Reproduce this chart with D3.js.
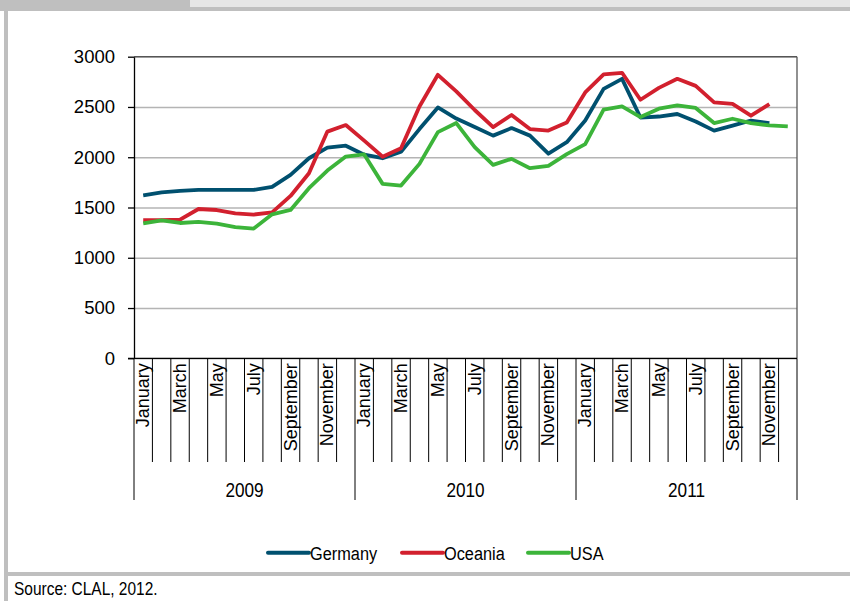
<!DOCTYPE html>
<html lang="en">
<head>
<meta charset="utf-8">
<title>Milk prices chart</title>
<script src="https://d3js.org/d3.v7.min.js"></script>
<style>
  body { margin: 0; background: #fff; }
  svg { display: block; }
  text { font-family: "Liberation Sans", Arial, sans-serif; fill: #000; }
</style>
</head>
<body>
<script>

// data
var months = ["January","February","March","April","May","June","July","August","September","October","November","December"];
var years = ["2009","2010","2011"];
var yTicks = [0, 500, 1000, 1500, 2000, 2500, 3000];

var germany = [1620,1650,1665,1675,1675,1675,1675,1705,1825,1990,2095,2115,
               2025,1990,2055,2280,2495,2385,2300,2215,2290,2215,2035,2150,
               2365,2680,2780,2395,2405,2430,2355,2265,2315,2365,2340,null];
var oceania = [1373,1373,1380,1485,1475,1442,1430,1452,1615,1840,2255,2320,
               2165,2005,2090,2505,2820,2655,2470,2300,2420,2280,2265,2345,
               2645,2825,2840,2572,2690,2780,2710,2545,2530,2413,2528,null];
var usa = [1343,1373,1346,1356,1340,1305,1290,1432,1476,1692,1867,2007,
           2028,1735,1718,1934,2250,2340,2100,1924,1984,1891,1914,2031,
           2130,2473,2506,2400,2483,2516,2490,2340,2383,2340,2316,2306];

var series = [
  {name: "Germany", values: germany, color: "#00506f"},
  {name: "Oceania", values: oceania, color: "#d2202e"},
  {name: "USA", values: usa, color: "#3cb43a"}
];

var w = 850, h = 601;
var pLeft = 134, pRight = 797, pTop = 56.7, pBottom = 358.3;
var narrow = 0.86; // squeeze for the condensed looking texts

// one label per month of the 3 years
var cats = [];
years.forEach(function(y){ months.forEach(function(m){ cats.push(m); }); });

var svg = d3.select("body").append("svg")
  .attr("width", w).attr("height", h);

// page frame bits
svg.append("rect").attr("x", 0).attr("y", 0).attr("width", w).attr("height", 11).attr("fill", "#bfbfbf");
svg.append("rect").attr("x", 190).attr("y", 0).attr("width", w - 190).attr("height", 7).attr("fill", "#e6e6e6");
svg.append("rect").attr("x", 4).attr("y", 11).attr("width", 4).attr("height", h - 11).attr("fill", "#bfbfbf");
svg.append("rect").attr("x", 4).attr("y", 572).attr("width", w - 4).attr("height", 4).attr("fill", "#bfbfbf");

var x = d3.scaleBand().domain(d3.range(cats.length)).range([pLeft, pRight]);
var y = d3.scaleLinear().domain([0, 3000]).range([pBottom, pTop]);

// gridlines
svg.append("g")
  .attr("transform", "translate(" + pLeft + ",0)")
  .call(d3.axisLeft(y).tickValues(yTicks).tickSize(-(pRight - pLeft)).tickFormat(""))
  .call(function(g){
    g.select(".domain").remove();
    g.selectAll("line").attr("stroke", "#b4b4b4").attr("stroke-width", 1.5);
  });

// frame top/right
svg.append("line").attr("x1", pLeft).attr("x2", pRight).attr("y1", pTop).attr("y2", pTop)
  .attr("stroke", "#555").attr("stroke-width", 1.3);
svg.append("line").attr("x1", pRight).attr("x2", pRight).attr("y1", pTop).attr("y2", pBottom)
  .attr("stroke", "#555").attr("stroke-width", 1.3);

// y axis
svg.append("g")
  .attr("transform", "translate(" + pLeft + ",0)")
  .call(d3.axisLeft(y).tickValues(yTicks).tickSize(6).tickPadding(13).tickSizeOuter(0)
          .tickFormat(d3.format("d")))
  .call(function(g){
    g.selectAll("path,line").attr("stroke", "#000").attr("stroke-width", 1.3);
    g.selectAll("text").attr("font-size", "18.5px").attr("fill", "#000")
      .attr("font-family", "Liberation Sans, Arial, sans-serif");
  });

// x axis baseline
svg.append("line").attr("x1", pLeft - 6).attr("x2", pRight).attr("y1", pBottom).attr("y2", pBottom)
  .attr("stroke", "#000").attr("stroke-width", 1.3);

// month boundary ticks
var bounds = d3.range(cats.length + 1);
svg.append("g").selectAll("line")
  .data(bounds)
  .enter()
  .append("line")
  .attr("x1", function(i){ return i < cats.length ? x(i) : pRight; })
  .attr("x2", function(i){ return i < cats.length ? x(i) : pRight; })
  .attr("y1", pBottom)
  .attr("y2", function(i){ return i % 12 == 0 ? 500 : 462; })
  .attr("stroke", "#000")
  .attr("stroke-width", 1);

// month labels (every other month)
svg.append("g").selectAll("text")
  .data(cats.filter(function(d, i){ return i % 2 == 0; }))
  .enter()
  .append("text")
  .attr("font-size", "18px")
  .attr("text-anchor", "end")
  .attr("transform", function(d, i){
    var cx = x(i * 2) + x.bandwidth() / 2 + 6;
    return "translate(" + cx + "," + (pBottom + 5) + ") rotate(-90)";
  })
  .text(function(d){ return d; });

// year labels
svg.append("g").selectAll("text")
  .data(years)
  .enter()
  .append("text")
  .attr("font-size", "20px")
  .attr("text-anchor", "middle")
  .attr("transform", function(d, i){
    var cx = (x(i * 12) + (i == 2 ? pRight : x(i * 12 + 12))) / 2;
    return "translate(" + cx + ",497) scale(" + narrow + ",1)";
  })
  .text(function(d){ return d; });

// lines
var line = d3.line()
  .defined(function(d){ return d != null; })
  .x(function(d, i){ return x(i) + x.bandwidth() / 2; })
  .y(function(d){ return y(d); });

svg.append("g").selectAll("path")
  .data(series)
  .enter()
  .append("path")
  .attr("d", function(s){ return line(s.values); })
  .attr("fill", "none")
  .attr("stroke", function(s){ return s.color; })
  .attr("stroke-width", 3.8)
  .attr("stroke-linejoin", "round");

// legend
var legendX = [268, 402, 528];
var lg = svg.append("g").selectAll("g")
  .data(series)
  .enter()
  .append("g")
  .attr("transform", function(d, i){ return "translate(" + legendX[i] + ",552.7)"; });
lg.append("line")
  .attr("x1", 0).attr("x2", 41)
  .attr("stroke", function(d){ return d.color; })
  .attr("stroke-width", 4)
  .attr("stroke-linecap", "round");
lg.append("text")
  .attr("transform", "translate(42,7) scale(" + narrow + ",1)")
  .attr("font-size", "19px")
  .text(function(d){ return d.name; });

// source
svg.append("text")
  .attr("transform", "translate(14,595) scale(" + narrow + ",1)")
  .attr("font-size", "18px")
  .text("Source: CLAL, 2012.");

</script>
</body>
</html>
